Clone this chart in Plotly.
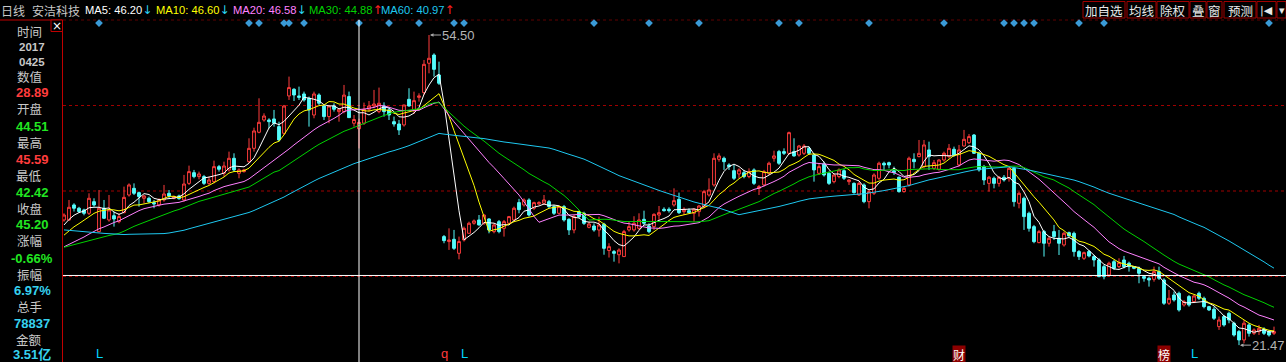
import plotly.graph_objects as go
import pandas as pd

# ---------------- data ----------------
opens = [
    34.80, 34.80, 36.40, 36.05, 35.87, 35.51, 36.75, 33.56, 36.05, 34.80,
    35.26, 34.62, 35.58, 37.46, 38.17, 37.71, 37.11, 37.11, 36.65, 36.40,
    36.93, 37.64, 37.11, 37.36, 36.93, 38.70, 39.84, 39.42, 39.42, 38.70,
    38.88, 40.48, 39.77, 40.13, 41.37, 39.77, 39.95, 41.01, 42.43, 44.14,
    45.45, 45.45, 45.56, 44.74, 44.03, 48.01, 48.72, 48.01, 48.22, 47.76,
    45.98, 48.11, 46.94, 45.81, 46.94, 46.34, 46.34, 47.94, 45.10, 44.51,
    45.10, 46.59, 46.94, 46.34, 46.94, 46.52, 45.27, 45.02, 44.92, 47.65,
    46.45, 47.86, 48.36, 51.49, 52.37, 50.24, 33.03, 32.50, 32.74, 31.25,
    32.67, 33.38, 34.45, 34.80, 34.45, 34.91, 33.56, 34.62, 33.91, 34.45,
    34.80, 36.65, 36.40, 36.93, 36.05, 36.51, 36.58, 36.75, 36.22, 35.51,
    36.22, 34.87, 33.74, 35.68, 35.51, 34.02, 34.16, 33.73, 34.35, 31.55,
    31.43, 31.10, 30.90, 33.74, 33.74, 33.91, 34.87, 34.16, 34.09, 35.33,
    35.94, 35.94, 36.40, 37.00, 35.69, 35.79, 35.51, 35.69, 36.22, 37.46,
    38.53, 41.26, 41.37, 40.66, 40.05, 39.70, 39.84, 39.42, 40.13, 38.17,
    38.53, 39.77, 41.37, 42.08, 42.08, 41.90, 42.08, 41.72, 41.90, 42.43,
    41.72, 39.77, 40.77, 39.77, 38.88, 39.42, 40.05, 38.88, 38.70, 37.46,
    38.53, 36.75, 37.64, 39.24, 40.84, 40.90, 40.05, 39.35, 37.82, 38.53,
    41.26, 41.55, 40.48, 42.26, 40.30, 40.20, 41.19, 41.55, 42.33, 40.66,
    42.68, 43.03, 43.85, 41.90, 40.48, 38.70, 39.24, 38.70, 39.35, 39.24,
    40.30, 36.58, 37.11, 35.51, 34.09, 32.39, 33.56, 32.32, 33.56, 32.85,
    32.14, 33.45, 33.38, 31.43, 30.72, 31.43, 30.90, 30.54, 29.83, 28.94,
    30.36, 29.83, 30.54, 30.19, 29.83, 29.65, 28.77, 28.59, 28.48, 29.30,
    28.41, 25.93, 26.81, 26.99, 25.75, 26.64, 26.10, 26.99, 26.46, 25.57,
    25.29, 23.44, 24.51, 24.86, 23.80, 22.91, 22.02, 23.62, 22.73, 22.91,
    23.16, 22.91, 22.73]

highs = [
    35.51, 36.93, 36.58, 36.20, 36.00, 37.64, 37.11, 37.99, 36.93, 37.46,
    35.69, 35.51, 38.35, 38.70, 38.70, 37.82, 37.46, 37.29, 36.93, 37.11,
    38.53, 37.99, 37.40, 37.50, 39.60, 40.59, 40.13, 39.95, 39.60, 39.42,
    41.12, 40.66, 41.01, 42.08, 41.90, 40.30, 40.25, 43.50, 44.63, 47.76,
    46.16, 45.63, 46.52, 45.27, 47.05, 50.07, 48.83, 49.00, 48.47, 47.94,
    48.47, 48.29, 47.05, 47.05, 47.23, 46.70, 49.18, 48.47, 45.98, 45.59,
    47.30, 47.47, 48.65, 48.90, 47.33, 46.80, 45.81, 45.45, 47.05, 48.83,
    48.47, 48.29, 51.84, 54.50, 52.55, 51.66, 33.20, 33.91, 33.74, 33.03,
    34.09, 34.62, 34.85, 35.33, 35.40, 34.98, 34.45, 34.80, 34.80, 35.23,
    36.22, 37.05, 37.11, 37.11, 36.75, 36.80, 37.46, 36.93, 36.40, 36.35,
    36.40, 34.98, 35.33, 35.80, 35.68, 34.62, 34.44, 35.15, 34.50, 32.32,
    31.60, 31.78, 33.74, 34.62, 35.20, 35.51, 35.79, 34.45, 35.51, 36.29,
    36.15, 36.15, 38.17, 37.71, 36.15, 36.04, 36.04, 36.40, 38.00, 39.24,
    41.90, 41.90, 41.55, 40.84, 40.66, 40.30, 40.13, 40.30, 40.30, 38.53,
    40.13, 41.01, 42.18, 42.26, 42.43, 44.21, 43.50, 42.79, 42.89, 42.61,
    41.90, 40.84, 41.01, 39.95, 39.77, 40.30, 40.20, 39.13, 38.80, 38.88,
    38.70, 38.00, 39.77, 41.01, 41.01, 41.01, 40.48, 39.42, 38.35, 41.55,
    41.90, 43.32, 43.32, 43.14, 41.19, 41.26, 42.08, 42.89, 42.61, 42.79,
    44.39, 43.96, 43.96, 42.08, 40.66, 39.49, 39.42, 39.49, 39.59, 40.48,
    40.48, 37.82, 37.29, 35.69, 34.27, 33.74, 33.74, 33.03, 34.27, 33.74,
    33.56, 33.56, 33.56, 31.60, 31.43, 31.60, 31.07, 30.72, 30.01, 30.36,
    30.54, 30.72, 30.97, 30.36, 29.90, 29.83, 28.94, 28.77, 29.83, 29.83,
    28.59, 27.35, 27.17, 27.17, 26.28, 26.81, 26.85, 27.17, 26.64, 25.65,
    25.57, 24.51, 24.69, 25.04, 23.97, 23.09, 24.15, 23.80, 23.26, 23.62,
    23.37, 23.09, 23.44]

lows = [
    34.62, 34.70, 35.70, 35.55, 35.30, 35.33, 36.22, 33.50, 34.90, 34.62,
    34.09, 34.45, 35.51, 37.29, 37.46, 36.22, 36.58, 36.58, 36.05, 36.22,
    36.75, 37.11, 37.00, 36.95, 36.75, 38.53, 39.24, 39.13, 38.53, 38.53,
    38.70, 39.95, 39.42, 39.95, 39.95, 39.24, 39.85, 40.84, 42.08, 44.03,
    45.27, 44.56, 44.74, 43.14, 43.85, 47.58, 47.47, 47.58, 47.40, 44.74,
    45.63, 47.05, 45.45, 45.10, 46.34, 45.27, 46.16, 45.70, 44.74, 42.42,
    44.92, 46.34, 46.70, 46.16, 45.81, 45.45, 44.74, 43.85, 44.74, 46.87,
    46.09, 47.40, 48.11, 50.42, 50.07, 49.18, 32.32, 31.61, 31.61, 30.61,
    32.50, 33.38, 34.30, 34.20, 34.27, 33.38, 33.38, 33.38, 33.03, 34.27,
    34.62, 35.51, 36.22, 35.16, 35.87, 36.40, 36.40, 36.05, 35.33, 35.40,
    34.62, 33.20, 33.38, 35.00, 34.27, 33.91, 33.55, 33.02, 31.10, 30.80,
    30.36, 30.18, 30.90, 33.56, 33.56, 33.74, 34.27, 33.38, 33.74, 34.80,
    35.69, 35.58, 36.22, 35.44, 35.33, 35.51, 34.62, 35.16, 36.04, 37.29,
    38.35, 41.01, 40.13, 40.13, 39.06, 39.24, 39.24, 39.24, 38.53, 37.46,
    38.35, 39.59, 41.01, 40.66, 41.72, 41.72, 41.55, 41.55, 41.72, 41.72,
    38.88, 39.59, 39.42, 38.53, 38.70, 39.24, 39.06, 38.53, 37.60, 37.36,
    36.58, 36.04, 37.46, 39.06, 40.13, 40.30, 39.59, 37.71, 37.71, 38.35,
    40.30, 41.47, 40.30, 40.13, 40.13, 40.05, 41.01, 41.37, 41.55, 40.48,
    42.61, 42.89, 41.83, 39.95, 38.53, 37.82, 38.17, 38.35, 38.88, 38.88,
    36.22, 36.04, 33.74, 33.56, 32.32, 32.32, 30.90, 31.96, 32.67, 31.07,
    31.96, 33.03, 30.90, 30.54, 30.54, 30.82, 29.83, 28.70, 28.48, 28.77,
    29.48, 29.65, 29.65, 29.30, 29.55, 28.06, 28.23, 27.70, 28.23, 28.41,
    25.75, 25.75, 26.10, 25.04, 25.57, 25.57, 25.95, 26.28, 25.39, 25.10,
    24.15, 23.09, 23.44, 23.80, 22.38, 21.47, 21.67, 22.38, 22.55, 22.55,
    22.55, 22.38, 22.55]

closes = [
    35.33, 36.15, 36.05, 35.70, 35.51, 37.11, 36.40, 36.05, 34.98, 35.87,
    34.91, 35.16, 37.21, 38.53, 37.64, 37.29, 37.36, 36.75, 36.51, 36.93,
    37.57, 37.36, 37.29, 37.07, 38.63, 39.95, 39.42, 39.70, 38.70, 39.06,
    40.48, 40.20, 40.55, 41.37, 40.13, 40.13, 40.13, 42.43, 44.28, 45.20,
    45.87, 45.27, 45.10, 43.32, 46.94, 48.90, 48.11, 47.86, 47.58, 46.52,
    48.22, 47.23, 45.81, 46.94, 46.59, 46.59, 48.10, 45.70, 45.50, 45.20,
    46.59, 46.94, 47.15, 47.23, 46.34, 45.98, 45.02, 44.39, 47.05, 46.94,
    47.51, 48.01, 51.38, 52.02, 50.84, 49.36, 32.60, 32.67, 31.78, 32.50,
    33.91, 34.45, 34.70, 34.27, 35.33, 33.74, 34.27, 33.56, 34.62, 35.16,
    36.05, 35.90, 36.93, 35.33, 36.65, 36.65, 36.93, 36.22, 35.51, 36.22,
    34.80, 33.74, 35.16, 35.15, 34.44, 34.37, 33.73, 34.27, 31.78, 31.96,
    31.25, 31.60, 33.56, 34.09, 34.45, 34.80, 34.45, 33.56, 35.40, 35.58,
    35.79, 35.79, 36.86, 35.58, 35.94, 35.58, 35.94, 36.29, 37.82, 38.00,
    41.37, 41.62, 41.01, 40.48, 39.24, 40.13, 39.42, 39.95, 38.70, 38.35,
    39.95, 40.84, 41.62, 40.84, 41.90, 44.10, 41.62, 42.68, 42.68, 41.90,
    40.13, 40.48, 39.59, 38.70, 39.59, 40.13, 39.24, 39.06, 37.71, 38.70,
    36.75, 37.82, 39.59, 40.84, 40.66, 40.66, 39.84, 37.82, 38.17, 41.37,
    41.01, 41.90, 42.79, 41.55, 40.90, 41.19, 41.90, 42.43, 41.72, 42.26,
    43.39, 43.68, 41.90, 40.13, 39.06, 39.35, 38.70, 39.35, 39.06, 40.30,
    36.75, 37.64, 35.16, 33.91, 32.49, 33.56, 32.32, 32.85, 33.03, 32.32,
    33.38, 33.10, 31.43, 30.90, 31.32, 30.97, 30.54, 28.77, 28.77, 30.19,
    29.65, 30.26, 29.83, 29.83, 29.65, 29.12, 28.59, 28.41, 29.30, 28.59,
    25.93, 26.46, 26.28, 25.22, 26.10, 25.75, 26.71, 26.46, 25.57, 25.22,
    24.33, 24.15, 23.62, 24.15, 22.55, 22.02, 23.80, 22.73, 23.09, 23.26,
    22.73, 22.55, 22.91]

# estimated closes of the 59 sessions before the visible window (so the averages start where they do)
closes_before_window = [
    39.6, 39.2, 39.5, 38.9, 38.4, 38.7, 38.1, 37.8, 38.3, 37.6,
    37.2, 37.5, 36.9, 37.3, 36.8, 37.1, 36.6, 36.9,
    35.8, 34.9, 33.6, 32.4, 31.8, 31.2, 30.6, 31.0, 30.4, 30.9, 31.5, 31.2,
    31.8, 32.4, 32.0, 31.5, 32.2, 31.9, 31.3, 31.7, 31.4, 31.8,
    31.2, 30.6, 30.2, 30.5, 30.9, 30.4, 30.8, 31.0, 30.7, 30.7,
    31.4, 31.9, 32.3, 32.1, 32.8,
    33.2, 33.8, 34.3, 34.7]

ma_periods = [5, 10, 20, 30, 60]
event_bars = [7, 37, 39, 44, 45, 48, 59, 65, 71, 78, 80, 106, 117, 127, 143, 147,
              161, 176, 188, 190, 192, 194, 203, 208, 241]
mark_bars = [7, 76, 80, 179, 220, 226]
mark_texts = ["L", "q", "L", "财", "榜", "L"]
cursor_bar = 59
cursor_value = 28.89
header_names = ["MA5", "MA10", "MA20", "MA30", "MA60"]
header_values = ["46.20", "46.60", "46.58", "44.88", "40.97"]
header_arrows = ["↓", "↓", "↓", "↑", "↑"]
info_labels = ["时间", "数值", "开盘", "最高", "最低", "收盘", "涨幅", "振幅", "总手", "金额"]
info_values = ["28.89", "44.51", "45.59", "42.42", "45.20", "-0.66%", "6.97%", "78837", "3.51亿"]
info_date = ["2017", "0425"]
buttons = ["加自选", "均线", "除权", "叠", "窗", "预测", "|◀", "▾"]

# ---------------- styles / layout ----------------
W, H = 1286, 362
LM, TM = 63, 20
PW, PH = W - LM, H - TM
BG = "#000000"
RED = "#ff3c3c"
CYAN = "#54fcfc"
GRAY = "#c8c8c8"
GREEN = "#22e622"
BLUE = "#36d2f0"
DARKRED = "#a00000"
ma_colors = ["#ffffff", "#ffff00", "#ff80ff", "#00d200", "#1ec8f0"]
header_colors = ["#ffffff", "#ffff00", "#ff80ff", "#00d200", "#1ec8f0"]
arrow_colors = ["#2ad4f4", "#2ad4f4", "#2ad4f4", "#ff2020", "#ff2020"]
NUMF = "Liberation Sans, Arial, sans-serif"
CJKF = "Noto Sans CJK SC, sans-serif"


def fx(xp):
    return (xp - LM) / PW


def fy(yp):
    return (H - yp) / PH


n = len(closes)
bars = list(range(n))

fig = go.Figure()

fig.add_trace(go.Candlestick(
    x=bars, open=opens, high=highs, low=lows, close=closes,
    increasing=dict(line=dict(color=RED, width=1), fillcolor=BG),
    decreasing=dict(line=dict(color=CYAN, width=1), fillcolor=CYAN),
    whiskerwidth=0, hoverinfo="skip", showlegend=False))

full = pd.Series(closes_before_window + closes, dtype=float)
for p, col in zip(ma_periods, ma_colors):
    ma = full.rolling(p).mean().iloc[len(closes_before_window):].tolist()
    fig.add_trace(go.Scatter(x=bars, y=ma, mode="lines", line=dict(color=col, width=1),
                             hoverinfo="skip", showlegend=False))

# event diamonds on top row
fig.add_trace(go.Scatter(x=event_bars, y=[0.991] * len(event_bars), yaxis="y2", mode="markers",
                         marker=dict(symbol="diamond", size=6, color="#3a9ad6"),
                         hoverinfo="skip", showlegend=False, cliponaxis=False))

shapes = []
# dotted grid lines
for g in (0.25, 0.5, 0.75):
    shapes.append(dict(type="line", xref="paper", yref="paper", x0=0, x1=1, y0=g, y1=g,
                       line=dict(color=DARKRED, width=1, dash="dot"), layer="below"))
shapes.append(dict(type="line", xref="paper", yref="paper", x0=0, x1=1, y0=fy(20), y1=fy(20),
                   line=dict(color="#600000", width=1, dash="dot"), layer="below"))
# crosshair
shapes.append(dict(type="line", xref="x", yref="paper", x0=cursor_bar, x1=cursor_bar, y0=0, y1=1,
                   line=dict(color="#ffffff", width=1)))
shapes.append(dict(type="line", xref="paper", yref="y", x0=0, x1=1, y0=cursor_value, y1=cursor_value,
                   line=dict(color="#ffffff", width=1)))
# left panel border
shapes.append(dict(type="line", xref="paper", yref="paper", x0=fx(62.5), x1=fx(62.5), y0=fy(20), y1=fy(362),
                   line=dict(color="#c00000", width=1)))
shapes.append(dict(type="line", xref="paper", yref="paper", x0=fx(0), x1=fx(62.5), y0=fy(20), y1=fy(20),
                   line=dict(color="#c00000", width=1)))
shapes.append(dict(type="rect", xref="paper", yref="paper", x0=fx(51), x1=fx(62.5), y0=fy(31.5), y1=fy(20),
                   line=dict(color="#c00000", width=1), fillcolor=BG))

annotations = []


def txt(text, xp, yp, color, size, family=NUMF, anchor="left", bold=False, bg=None):
    t = f"<b>{text}</b>" if bold else text
    d = dict(text=t, xref="paper", yref="paper", x=fx(xp), y=fy(yp), xanchor=anchor, yanchor="middle",
             showarrow=False, font=dict(color=color, size=size, family=family), borderpad=0)
    if bg:
        d["bgcolor"] = bg
    annotations.append(d)


# close box "X"
txt("×", 56.7, 25.5, "#ffffff", 12, family="DejaVu Sans", anchor="center")

# header left
txt("日线", 0, 10, GRAY, 12, CJKF)
txt("安洁科技", 31, 10, GRAY, 12, CJKF)
hx = [84, 155, 232, 308, 380]
for name, val, arr, c, ac, x0 in zip(header_names, header_values, header_arrows,
                                     header_colors, arrow_colors, hx):
    txt(f"{name}: {val}<span style='color:{ac};font-family:DejaVu Sans;font-size:12px'>{arr}</span>",
        x0, 10, c, 11.2)

# header buttons
bx = [(1083, 1125), (1127, 1156), (1157, 1189), (1190, 1206), (1207, 1222), (1224, 1256), (1257, 1276), (1277, 1286)]
for lab, (a, b) in zip(buttons, bx):
    shapes.append(dict(type="rect", xref="paper", yref="paper", x0=fx(a), x1=fx(b), y0=fy(18), y1=fy(1.5),
                       line=dict(color="#a00000", width=1), fillcolor=BG))
    fam = "DejaVu Sans" if lab in ("|◀", "▾") else CJKF
    txt(lab, (a + b) / 2, 10, "#e8e8e8", 12.5 if fam == CJKF else 11, fam, anchor="center")

# left info panel
label_y = [31.5, 77, 109, 142, 175, 209, 241, 274, 306, 339]
value_y = [93, 126, 159, 192, 225, 258, 290.5, 323, 354]
value_colors = [RED, GREEN, RED, GREEN, GREEN, GREEN, BLUE, BLUE, BLUE]
for lab, yy in zip(info_labels, label_y):
    txt(lab, 29, yy, GRAY, 12.5, CJKF, anchor="center")
txt("<br>".join(info_date), 32, 54.5, GRAY, 11.5, NUMF, anchor="center", bold=True)
for v, yy, c in zip(info_values, value_y, value_colors):
    txt(v, 32, yy, c, 13, NUMF + ", " + CJKF, anchor="center", bold=True)

# bottom marks
for b, t in zip(mark_bars, mark_texts):
    if t in ("财", "榜"):
        annotations.append(dict(text=t, xref="x", yref="paper", x=b, y=fy(354), xanchor="center",
                                yanchor="middle", showarrow=False, bgcolor="#8c0000", borderpad=0,
                                font=dict(color="#ffffff", size=12, family=CJKF)))
    else:
        annotations.append(dict(text=t, xref="x", yref="paper", x=b, y=fy(353.5), xanchor="center",
                                yanchor="middle", showarrow=False,
                                font=dict(color=(RED if t == "q" else "#00d8ff"), size=13, family=NUMF)))

# high / low markers
ih = max(range(n), key=lambda i: highs[i])
il = min(range(n), key=lambda i: lows[i])
for i, v in ((ih, highs[ih]), (il, lows[il])):
    annotations.append(dict(text=f"{v:.2f}", x=i, y=v, xref="x", yref="y", showarrow=True,
                            arrowhead=2, arrowsize=0.7, arrowwidth=1, arrowcolor="#a8a8a8",
                            ax=12, ay=0, xanchor="left", yanchor="middle",
                            font=dict(color="#b4b4b4", size=13, family=NUMF), borderpad=0, standoff=1))

fig.update_layout(
    width=W, height=H,
    margin=dict(l=LM, r=0, t=TM, b=0),
    paper_bgcolor=BG, plot_bgcolor=BG,
    showlegend=False,
    boxgap=0.2,
    xaxis=dict(range=[-0.2, 244.4], visible=False, rangeslider=dict(visible=False), fixedrange=True),
    yaxis=dict(range=[19.6745, 56.0975], visible=False, fixedrange=True),
    yaxis2=dict(range=[0, 1], overlaying="y", visible=False, fixedrange=True),
    shapes=shapes,
    annotations=annotations,
    font=dict(family=NUMF, color=GRAY),
    hovermode=False,
)

fig.write_html("out.html", config={"displayModeBar": False, "staticPlot": True})

with open("out.html", "r", encoding="utf-8") as f:
    html = f.read()
html = html.replace("<head>", "<head><style>html,body{margin:0;padding:0;background:#000;overflow:hidden}</style>", 1)
with open("out.html", "w", encoding="utf-8") as f:
    f.write(html)
